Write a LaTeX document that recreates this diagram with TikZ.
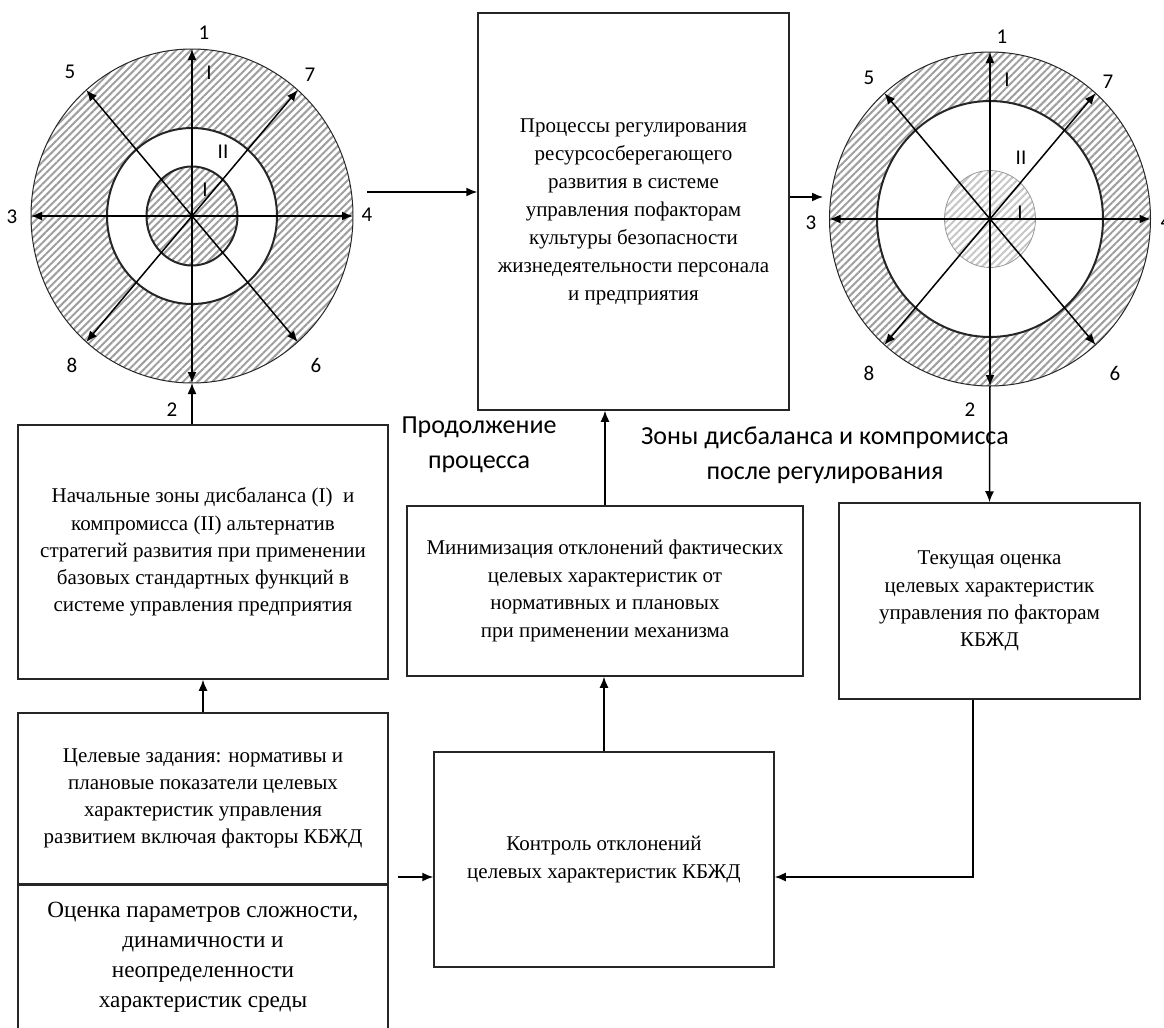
\documentclass[tikz,border=0pt]{standalone}
\usepackage{fontspec}
\setmainfont{Liberation Serif}
\newfontfamily\calibri{Carlito}
\usetikzlibrary{arrows.meta,shapes.geometric,patterns.meta}

\begin{document}
\begin{tikzpicture}[x=0.5pt,y=-0.5pt,>={Latex[length=5.5pt,width=4.5pt]},line width=0.75pt,
  box/.style={draw=black!85,rectangle,align=center,inner sep=0pt,font=\fontsize{10.5}{13.6}\selectfont},
  zone/.style={draw=black!85,ellipse,inner sep=0pt,outer sep=0pt},
  hatch/.style={pattern={Lines[angle=45,distance=2.6pt,line width=1pt]},pattern color=gray!75},
  num/.style={inner sep=0pt,font=\calibri\fontsize{10.5}{12}\selectfont},
  note/.style={align=center,inner sep=0pt,font=\calibri\fontsize{13}{17.5}\selectfont}]
\useasboundingbox (0,0) rectangle (1164,1028);

% left diagram: initial zones
\node[zone,hatch,line width=0.5pt,minimum width=161pt,minimum height=167pt] (lout) at (192,216) {};
\node[zone,fill=white,line width=1pt,minimum width=85pt,minimum height=88pt] (lmid) at (192,216) {};
\node[zone,hatch,line width=1pt,minimum width=45.5pt,minimum height=49.5pt] (lin) at (192,216) {};
\draw[->] (lout.center) -- (lout.north);
\draw[->] (lout.center) -- (lout.south);
\draw[->] (lout.center) -- (lout.west);
\draw[->] (lout.center) -- (lout.east);
\draw[->] (lout.center) -- (lout.130);
\draw[->] (lout.center) -- (lout.50);
\draw[->] (lout.center) -- (lout.230);
\draw[->] (lout.center) -- (lout.310);
\node[num] (l1) at (204,33) {1};
\node[num] (l2) at (172,410) {2};
\node[num] (l3) at (12,217) {3};
\node[num] (l4) at (367,215) {4};
\node[num] (l5) at (70,72) {5};
\node[num] (l6) at (316,365) {6};
\node[num] (l7) at (310,75) {7};
\node[num] (l8) at (72,365) {8};
\node[num] (lz1) at (209,73) {I};
\node[num] (lz2) at (223,152) {II};
\node[num] (lz3) at (205,190) {I};

% right diagram: zones after regulation
\node[zone,hatch,line width=0.5pt,minimum width=160.5pt,minimum height=167pt] (rout) at (990,219) {};
\node[zone,fill=white,line width=1pt,minimum width=113pt,minimum height=118pt] (rmid) at (990,219) {};
\node[zone,hatch,pattern color=gray!45,draw=gray!80,line width=0.4pt,minimum width=45.5pt,minimum height=48.5pt] (rin) at (990,219) {};
\draw[->] (rout.center) -- (rout.north);
\draw[->] (rout.center) -- (rout.south);
\draw[->] (rout.center) -- (rout.west);
\draw[->] (rout.center) -- (rout.east);
\draw[->] (rout.center) -- (rout.130);
\draw[->] (rout.center) -- (rout.50);
\draw[->] (rout.center) -- (rout.230);
\draw[->] (rout.center) -- (rout.310);
\node[num] (r1) at (1002,37) {1};
\node[num] (r2) at (970,410) {2};
\node[num] (r3) at (811,223) {3};
\node[num] (r4) at (1166,222) {4};
\node[num] (r5) at (869,78) {5};
\node[num] (r6) at (1115,373) {6};
\node[num] (r7) at (1108,82) {7};
\node[num] (r8) at (869,373) {8};
\node[num] (rz1) at (1007,80) {I};
\node[num] (rz2) at (1021,158) {II};
\node[num] (rz3) at (1020,213) {I};

% boxes
\node[box,minimum width=155.5pt,minimum height=198.5pt,font=\fontsize{10.5}{14}\selectfont] (proc) at (633.5,211.5) {Процессы регулирования\\ресурсосберегающего\\развития в системе\\управления пофакторам\\культуры безопасности\\жизнедеятельности персонала\\и предприятия};
\node[box,minimum width=185pt,minimum height=127pt] (start) at (203,552) {Начальные зоны дисбаланса (I)~ и\\компромисса (II) альтернатив\\стратегий развития при применении\\базовых стандартных функций в\\системе управления предприятия};
\node[box,minimum width=185pt,minimum height=85.5pt] (goal) at (203,798.5) {Целевые задания: нормативы и\\плановые показатели целевых\\характеристик управления\\развитием включая факторы КБЖД};
\node[box,minimum width=185pt,minimum height=73pt,anchor=north,font=\fontsize{11.6}{15}\selectfont] (env) at (203,884) {Оценка параметров сложности,\\динамичности и\\неопределенности\\характеристик среды};
\node[box,minimum width=198pt,minimum height=85pt,font=\fontsize{10.5}{13.8}\selectfont] (mini) at (605,591) {Минимизация отклонений фактических\\целевых характеристик от\\нормативных и плановых\\при применении механизма};
\node[box,minimum width=150.5pt,minimum height=98pt] (cur) at (989.5,601) {Текущая оценка\\целевых характеристик\\управления по факторам\\КБЖД};
\node[box,minimum width=170pt,minimum height=107.5pt] (ctrl) at (604,859.5) {Контроль отклонений\\целевых характеристик КБЖД};

\node[note] (cont) at (479,445) {Продолжение\\процесса};
\node[note] (zones) at (825,455) {Зоны дисбаланса и компромисса\\после регулирования};

% connectors
\coordinate (a1) at (367,192);
\coordinate (a2) at (823,197);
\coordinate (a3) at (398,877);
\coordinate (a4) at (973,877);
\draw[->] (start.north -| lout.south) -- (lout.south);
\draw[->] (a1) -- (a1 -| proc.west);
\draw[->] (a2 -| proc.east) -- (a2);
\draw[->] (rout.south) -- (cur.north);
\draw[->] (mini.north) -- (mini.north |- proc.south);
\draw[->] (ctrl.north) -- (ctrl.north |- mini.south);
\draw[->] (goal.north) -- (start.south);
\draw[->] (a3) -- (a3 -| ctrl.west);
\draw[->] (a4 |- cur.south) -- (a4) -- (a4 -| ctrl.east);
\end{tikzpicture}
\end{document}
